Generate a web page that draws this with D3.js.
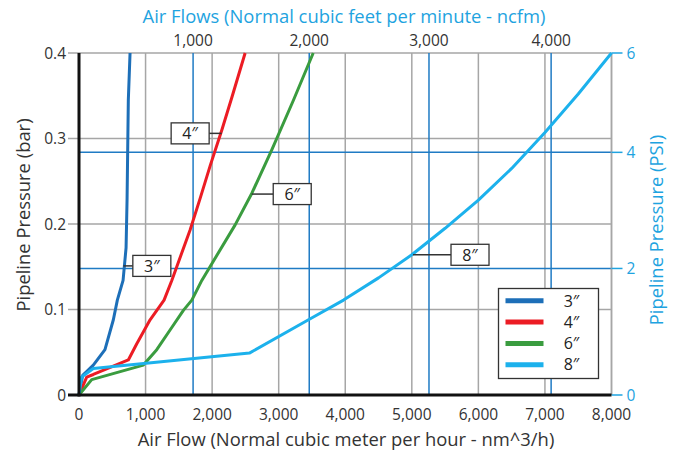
<!DOCTYPE html>
<html>
<head>
<meta charset="utf-8">
<script src="https://cdn.jsdelivr.net/npm/d3@7"></script>
<style>
  html, body { margin: 0; padding: 0; background: #fff; }
  svg { display: block; font-family: "Open Sans", "Noto Sans", sans-serif; }
</style>
</head>
<body>
<svg id="chart" width="680" height="456"></svg>
<script>
// Flow in nm^3/h versus pipeline pressure in bar, one curve per pipe size
const pipe3 = [[0,0],[56,0.023],[215,0.035],[390,0.053],[516,0.088],[576,0.111],[662,0.134],[707,0.172],[722,0.228],[741,0.345],[767,0.4]];
const pipe4 = [[0,0],[116,0.021],[215,0.024],[741,0.041],[868,0.060],[1068,0.088],[1278,0.111],[1394,0.134],[1669,0.193],[1820,0.230],[1970,0.268],[2146,0.310],[2296,0.348],[2496,0.4]];
const pipe6 = [[0,0],[191,0.018],[967,0.035],[1168,0.053],[1368,0.076],[1568,0.099],[1695,0.111],[1845,0.134],[2346,0.199],[2597,0.236],[2898,0.287],[3223,0.345],[3519,0.4]];
const pipe8 = [[0,0],[39,0.021],[215,0.031],[2560,0.049],[3448,0.088],[3974,0.111],[4500,0.137],[5000,0.164],[5500,0.195],[6000,0.228],[6500,0.265],[7000,0.307],[7500,0.352],[8000,0.4]];

const seriesNames = ["3″", "4″", "6″", "8″"];
const seriesData = [pipe3, pipe4, pipe6, pipe8];
const seriesColors = ["#1d6fb8", "#ec1c24", "#3a9c3f", "#1cb1ec"];

// Callouts: the point on each curve the leader touches [flow, bar]
const calloutPoints = [[666, 0.151], [2143, 0.306], [2595, 0.235], [5018, 0.164]];

const flowTicks = [0, 1000, 2000, 3000, 4000, 5000, 6000, 7000, 8000];
const barTicks = [0, 0.1, 0.2, 0.3, 0.4];
// Secondary axes: ncfm ticks and where they fall in nm^3/h
const cfmTicks = [1000, 2000, 3000, 4000];
const cfmInFlow = [1714, 3459, 5258, 7093];
// PSI ticks and where they fall in bar
const psiTicks = [0, 2, 4, 6];
const psiInBar = [0, 0.148, 0.2838, 0.4];

const svg = d3.select("#chart");
const plotL = 79, plotR = 611.5, plotT = 53, plotB = 395;

const x = d3.scaleLinear().domain([0, 8000]).range([plotL, plotR]);
const y = d3.scaleLinear().domain([0, 0.4]).range([plotB, plotT]);
const cfmToFlow = d3.scaleLinear().domain(cfmTicks).range(cfmInFlow);
const psiToBar = d3.scaleLinear().domain(psiTicks).range(psiInBar);

const grey = "#a6a6a6", gridBlue = "#1f7bc4", titleBlue = "#1ea3e0", ink = "#333";
const tickSize = 15.5, titleSize = 18.4;

// Grey grid
svg.append("g").selectAll("line").data(flowTicks.slice(1)).join("line")
  .attr("x1", d => x(d)).attr("x2", d => x(d)).attr("y1", plotT).attr("y2", plotB)
  .attr("stroke", grey).attr("stroke-width", 1.5);
svg.append("g").selectAll("line").data(barTicks.slice(1)).join("line")
  .attr("x1", plotL - 11).attr("x2", plotR).attr("y1", d => y(d)).attr("y2", d => y(d))
  .attr("stroke", grey).attr("stroke-width", 1.5);

// Blue grid for the secondary axes
svg.append("g").selectAll("line").data(cfmTicks).join("line")
  .attr("x1", d => x(cfmToFlow(d))).attr("x2", d => x(cfmToFlow(d))).attr("y1", plotT).attr("y2", plotB)
  .attr("stroke", gridBlue).attr("stroke-width", 1.5);
svg.append("g").selectAll("line").data(psiTicks.slice(1, 3)).join("line")
  .attr("x1", plotL).attr("x2", plotR).attr("y1", d => y(psiToBar(d))).attr("y2", d => y(psiToBar(d)))
  .attr("stroke", gridBlue).attr("stroke-width", 1.5);

// Right axis
svg.append("line").attr("x1", plotR).attr("x2", plotR).attr("y1", plotT).attr("y2", plotB)
  .attr("stroke", grey).attr("stroke-width", 1.5);
svg.append("g").selectAll("line").data(psiTicks).join("line")
  .attr("x1", plotR).attr("x2", plotR + 11).attr("y1", d => y(psiToBar(d))).attr("y2", d => y(psiToBar(d)))
  .attr("stroke", titleBlue).attr("stroke-width", 1.5);
svg.append("g").selectAll("text").data(psiTicks).join("text")
  .attr("x", plotR + 15).attr("y", d => y(psiToBar(d))).attr("dy", "0.36em")
  .attr("font-size", tickSize).attr("fill", titleBlue).text(d => d);

// Curves
const line = d3.line().x(d => x(d[0])).y(d => y(d[1]));
svg.append("g").selectAll("path").data(seriesData).join("path")
  .attr("d", line).attr("fill", "none")
  .attr("stroke", (d, i) => seriesColors[i]).attr("stroke-width", 3)
  .attr("stroke-linejoin", "round");

// Main axes
svg.append("line").attr("x1", plotL - 11).attr("x2", plotR).attr("y1", plotB).attr("y2", plotB)
  .attr("stroke", "#111").attr("stroke-width", 3);
svg.append("line").attr("x1", plotL).attr("x2", plotL).attr("y1", plotT).attr("y2", plotB + 1.5)
  .attr("stroke", "#111").attr("stroke-width", 3);

// Tick labels
svg.append("g").selectAll("text").data(barTicks).join("text")
  .attr("x", plotL - 13).attr("y", d => y(d)).attr("dy", "0.36em").attr("text-anchor", "end")
  .attr("font-size", tickSize).attr("fill", ink).text(d => d === 0 ? "0" : d3.format(".1f")(d));
svg.append("g").selectAll("text").data(flowTicks).join("text")
  .attr("x", d => x(d)).attr("y", plotB + 25).attr("text-anchor", "middle")
  .attr("font-size", tickSize).attr("fill", ink).text(d3.format(","));
svg.append("g").selectAll("text").data(cfmTicks).join("text")
  .attr("x", d => x(cfmToFlow(d))).attr("y", plotT - 7).attr("text-anchor", "middle")
  .attr("font-size", tickSize).attr("fill", ink).text(d3.format(","));

// Axis titles
svg.append("text").attr("x", 346).attr("y", 446).attr("text-anchor", "middle")
  .attr("font-size", titleSize).attr("fill", ink)
  .text("Air Flow (Normal cubic meter per hour - nm^3/h)");
svg.append("text").attr("x", 344).attr("y", 23).attr("text-anchor", "middle")
  .attr("font-size", titleSize).attr("fill", titleBlue)
  .text("Air Flows (Normal cubic feet per minute - ncfm)");
svg.append("text").attr("transform", "translate(30,215) rotate(-90)").attr("text-anchor", "middle")
  .attr("font-size", titleSize).attr("fill", ink).text("Pipeline Pressure (bar)");
svg.append("text").attr("transform", "translate(663,230) rotate(-90)").attr("text-anchor", "middle")
  .attr("font-size", titleSize).attr("fill", titleBlue).text("Pipeline Pressure (PSI)");

// Callout boxes: horizontal offset of the box's near edge from the touched point (px)
const calloutOffsets = [9.5, -12.5, 21.5, 38];
const boxW = 38, boxH = 21;
const boxLeft = (d, i) => calloutOffsets[i] < 0 ? x(d[0]) + calloutOffsets[i] - boxW : x(d[0]) + calloutOffsets[i];
const callouts = svg.append("g").selectAll("g").data(calloutPoints).join("g");
callouts.append("line")
  .attr("x1", d => x(d[0])).attr("y1", d => y(d[1]))
  .attr("x2", (d, i) => x(d[0]) + calloutOffsets[i]).attr("y2", d => y(d[1]))
  .attr("stroke", "#333").attr("stroke-width", 1.5);
callouts.append("rect")
  .attr("x", boxLeft).attr("y", d => y(d[1]) - boxH / 2)
  .attr("width", boxW).attr("height", boxH)
  .attr("fill", "#fff").attr("stroke", "#333").attr("stroke-width", 1.3);
callouts.append("text")
  .attr("x", (d, i) => boxLeft(d, i) + boxW / 2)
  .attr("y", d => y(d[1])).attr("dy", "0.36em").attr("text-anchor", "middle")
  .attr("font-size", 16).attr("fill", "#222").text((d, i) => seriesNames[i]);

// Legend
const lg = svg.append("g").attr("transform", "translate(498.5,288.5)");
lg.append("rect").attr("width", 100).attr("height", 90)
  .attr("fill", "#fff").attr("stroke", "#333").attr("stroke-width", 1.3);
const rows = lg.selectAll("g").data(seriesNames).join("g")
  .attr("transform", (d, i) => `translate(0,${12.3 + i * 21.3})`);
rows.append("line").attr("x1", 7).attr("x2", 45).attr("stroke", (d, i) => seriesColors[i]).attr("stroke-width", 5);
rows.append("text").attr("x", 73).attr("dy", "0.36em").attr("text-anchor", "middle")
  .attr("font-size", 16).attr("fill", "#222").text(d => d);
</script>
</body>
</html>
